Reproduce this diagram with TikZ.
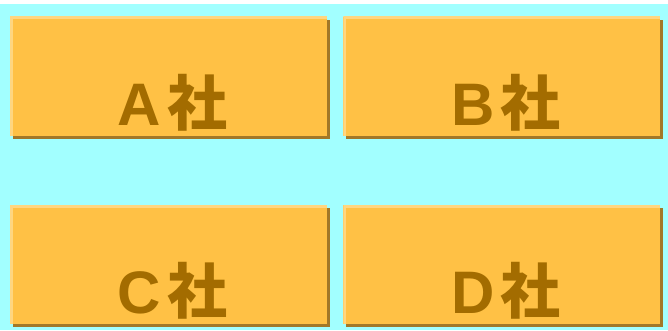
\documentclass[tikz,border=0pt]{standalone}
\usepackage{xcolor}
\usepackage{fontspec}
\setmainfont{Liberation Sans}
\newfontfamily\cjk{Noto Sans CJK JP}
\usepackage{tikz}
\usetikzlibrary{positioning,shadows}

\definecolor{bgcyan}{HTML}{A2FFFF}
\definecolor{boxfill}{HTML}{FFC145}
\definecolor{edgelight}{HTML}{FFD680}
\definecolor{edgedark}{HTML}{A27828}
\definecolor{tagbrown}{HTML}{A36C00}

\begin{document}
\begin{tikzpicture}[
  x=1pt,y=1pt,
  box/.style={rectangle,fill=boxfill,inner sep=0pt,minimum width=317pt,minimum height=119pt,
    drop shadow={shadow xshift=3pt,shadow yshift=-3pt,fill=edgedark,opacity=1},
    path picture={\draw[edgelight,line width=5pt]
      (path picture bounding box.south west) -- (path picture bounding box.north west)
      -- (path picture bounding box.north east);}},
  tag/.style={anchor=base,text=tagbrown,font=\fontsize{60}{60}\selectfont\bfseries,inner sep=0pt},
]

% Background
\fill[bgcyan] (0,0) rectangle (668,326);
\fill[white] (0,326) rectangle (668,330);
\useasboundingbox (0,0) rectangle (668,330);

% Companies
\node[box] (compA) at (168.5,253.5) {};
\node[box,right=16pt of compA] (compB) {};
\node[box,below=69pt of compA] (compC) {};
\node[box,right=16pt of compC] (compD) {};

% Labels
\node[tag] (tagA) at ([xshift=4pt,yshift=11pt]compA.south) {A\hspace{6pt}{\cjk 社}};
\node[tag] (tagB) at ([xshift=4pt,yshift=11pt]compB.south) {B\hspace{6pt}{\cjk 社}};
\node[tag] (tagC) at ([xshift=4pt,yshift=11pt]compC.south) {C\hspace{6pt}{\cjk 社}};
\node[tag] (tagD) at ([xshift=4pt,yshift=11pt]compD.south) {D\hspace{6pt}{\cjk 社}};

\end{tikzpicture}
\end{document}
